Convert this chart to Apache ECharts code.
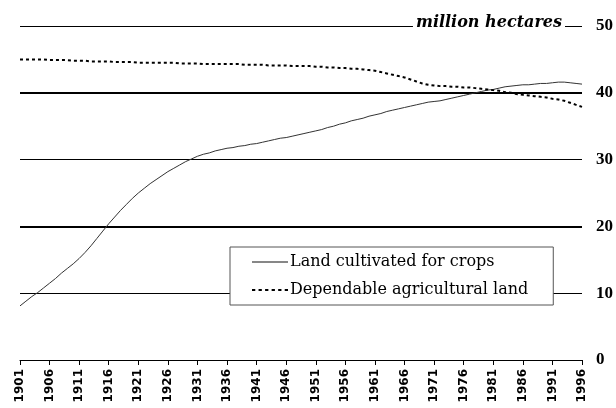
<!DOCTYPE html>
<html>
<head>
<meta charset="utf-8">
<style>html,body{margin:0;padding:0;background:#fff;}#c{width:616px;height:408px;}</style>
<script src="https://cdn.jsdelivr.net/npm/echarts@6/dist/echarts.min.js"></script>
</head>
<body>
<div id="c"></div>
<script>
var years = [];
for (var y = 1901; y <= 1996; y++) years.push(String(y));

var cultivated = [
  8.1, 8.8, 9.5, 10.1, 10.8, 11.5, 12.2, 13.0, 13.7, 14.4,
  15.2, 16.1, 17.1, 18.2, 19.3, 20.4, 21.4, 22.4, 23.3, 24.2,
  25.0, 25.7, 26.4, 27.0, 27.6, 28.2, 28.7, 29.2, 29.7, 30.1,
  30.5, 30.8, 31.0, 31.3, 31.5, 31.7, 31.8, 32.0, 32.1, 32.3,
  32.4, 32.6, 32.8, 33.0, 33.2, 33.3, 33.5, 33.7, 33.9, 34.1,
  34.3, 34.5, 34.8, 35.0, 35.3, 35.5, 35.8, 36.0, 36.2, 36.5,
  36.7, 36.9, 37.2, 37.4, 37.6, 37.8, 38.0, 38.2, 38.4, 38.6,
  38.7, 38.8, 39.0, 39.2, 39.4, 39.6, 39.8, 40.0, 40.2, 40.4,
  40.5, 40.7, 40.9, 41.0, 41.1, 41.2, 41.2, 41.3, 41.4, 41.4,
  41.5, 41.6, 41.6, 41.5, 41.4, 41.3
];

var dependable = [
  45.0, 45.0, 45.0, 45.0, 45.0, 44.9, 44.9, 44.9, 44.9, 44.8,
  44.8, 44.8, 44.7, 44.7, 44.7, 44.7, 44.6, 44.6, 44.6, 44.6,
  44.5, 44.5, 44.5, 44.5, 44.5, 44.5, 44.5, 44.4, 44.4, 44.4,
  44.4, 44.3, 44.3, 44.3, 44.3, 44.3, 44.3, 44.3, 44.2, 44.2,
  44.2, 44.2, 44.1, 44.1, 44.1, 44.1, 44.0, 44.0, 44.0, 44.0,
  43.9, 43.9, 43.8, 43.8, 43.7, 43.7, 43.6, 43.6, 43.5, 43.4,
  43.3, 43.1, 42.9, 42.7, 42.5, 42.3, 42.0, 41.7, 41.4, 41.2,
  41.1, 41.0, 41.0, 40.9, 40.9, 40.8, 40.8, 40.7, 40.6, 40.5,
  40.4, 40.3, 40.1, 40.0, 39.8, 39.7, 39.6, 39.5, 39.4, 39.3,
  39.1, 39.0, 38.8, 38.5, 38.2, 37.9
];

var seriesNames = ['Land cultivated for crops', 'Dependable agricultural land'];
var unitTitle = 'million hectares';
var heavyGridValues = [20, 40];

var solidIcon = 'path://M0,0h36v1.2h-36z';
var dottedIcon = 'path://M0,0h3v2h-3z M6,0h3v2h-3z M12,0h3v2h-3z M18,0h3v2h-3z M24,0h3v2h-3z M30,0h3v2h-3z';

var chart = echarts.init(document.getElementById('c'), null, {renderer: 'canvas'});
chart.setOption({
  animation: false,
  backgroundColor: '#fff',
  title: {
    text: unitTitle,
    right: 51,
    top: 15,
    padding: [0, 3, 0, 3],
    backgroundColor: '#fff',
    textStyle: {
      fontFamily: 'DejaVu Serif',
      fontStyle: 'italic',
      fontWeight: 'bold',
      fontSize: 16,
      color: '#000'
    }
  },
  legend: {
    orient: 'vertical',
    left: 230,
    top: 247,
    padding: [7, 25, 7, 22],
    itemWidth: 36,
    itemHeight: 14,
    itemGap: 12,
    backgroundColor: '#fff',
    borderColor: '#555',
    borderWidth: 1,
    borderRadius: 0,
    data: [
      {name: seriesNames[0], icon: solidIcon, itemStyle: {color: '#111'}},
      {name: seriesNames[1], icon: dottedIcon}
    ],
    textStyle: {
      fontFamily: 'DejaVu Serif',
      fontSize: 16,
      color: '#000',
      padding: [0, 0, 0, -3]
    }
  },
  grid: {left: 20, right: 32, top: 26, bottom: 48},
  xAxis: {
    type: 'category',
    data: years,
    boundaryGap: false,
    axisLine: {lineStyle: {color: '#000', width: 1}},
    axisTick: {show: true, interval: 4, length: 5, lineStyle: {color: '#000'}},
    axisLabel: {
      interval: 4,
      rotate: 90,
      margin: 9,
      fontFamily: 'DejaVu Sans',
      fontWeight: 'bold',
      fontSize: 12,
      color: '#000'
    },
    splitLine: {show: false}
  },
  yAxis: {
    type: 'value',
    position: 'right',
    min: 0,
    max: 50,
    interval: 10,
    axisLine: {show: false},
    axisTick: {show: false},
    axisLabel: {
      margin: 14,
      fontFamily: 'Liberation Serif',
      fontWeight: 'bold',
      fontSize: 17,
      color: '#000'
    },
    splitLine: {show: true, lineStyle: {color: '#000', width: 1}}
  },
  series: [
    {
      name: seriesNames[0],
      type: 'line',
      data: cultivated,
      symbol: 'none',
      lineStyle: {color: '#333', width: 1, type: 'solid'},
      itemStyle: {color: '#333'},
      z: 3,
      markLine: {
        silent: true,
        symbol: 'none',
        label: {show: false},
        lineStyle: {color: '#000', width: 2, type: 'solid'},
        data: heavyGridValues.map(function (v) { return {yAxis: v}; }),
        z: 1
      }
    },
    {
      name: seriesNames[1],
      type: 'line',
      data: dependable,
      symbol: 'none',
      lineStyle: {color: '#000', width: 2, type: [3, 3]},
      itemStyle: {color: '#000'},
      z: 3
    }
  ]
});
</script>
</body>
</html>
